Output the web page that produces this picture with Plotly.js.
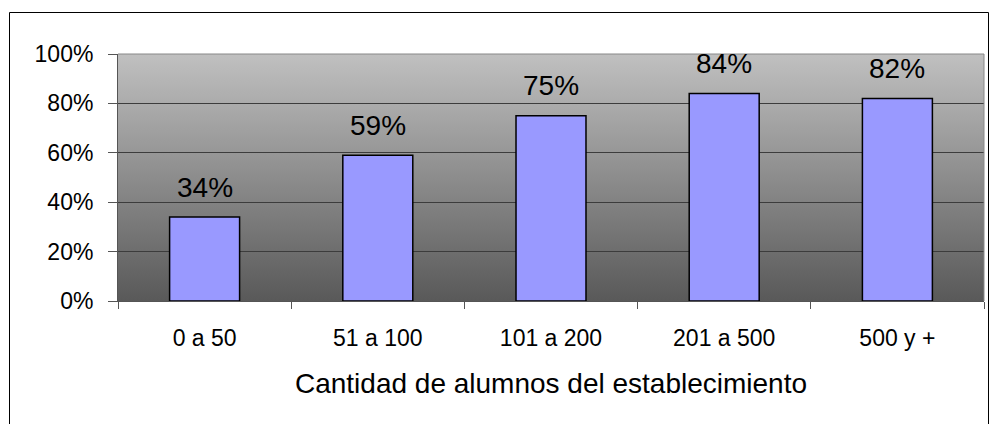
<!DOCTYPE html>
<html>
<head>
<meta charset="utf-8">
<script src="https://cdn.plot.ly/plotly-3.0.1.min.js"></script>
<style>html,body{margin:0;padding:0;background:#fff;}#chart{width:989px;height:424px;}</style>
</head>
<body>
<div id="chart"></div>
<script>
const categories = ["0 a 50", "51 a 100", "101 a 200", "201 a 500", "500 y +"];
const values = [0.34, 0.59, 0.75, 0.84, 0.82];
const valueLabels = ["34%", "59%", "75%", "84%", "82%"];
const yTickVals = [0, 0.2, 0.4, 0.6, 0.8, 1.0];
const yTickText = ["0%", "20%", "40%", "60%", "80%", "100%"];
const xTitle = "Cantidad de alumnos del establecimiento";

const FONT = "'Liberation Sans', Arial, sans-serif";

const gradSvg = '<svg xmlns="http://www.w3.org/2000/svg" width="10" height="100" preserveAspectRatio="none">' +
  '<defs><linearGradient id="g" x1="0" y1="0" x2="0" y2="1">' +
  '<stop offset="0" stop-color="#c0c0c0"/><stop offset="1" stop-color="#595959"/></linearGradient></defs>' +
  '<rect width="10" height="100" fill="url(#g)"/></svg>';
const gradUrl = 'data:image/svg+xml;base64,' + btoa(gradSvg);

const trace = {
  type: 'bar',
  x: categories,
  y: values,
  marker: {color: '#9999ff', line: {color: '#000000', width: 1.5}},
  hoverinfo: 'skip'
};

const annotations = categories.map((c, i) => ({
  x: c, y: values[i], xref: 'x', yref: 'y',
  text: valueLabels[i], showarrow: false,
  yanchor: 'middle', yshift: 30,
  font: {family: FONT, size: 28, color: '#000'}
}));

const layout = {
  width: 989, height: 424,
  margin: {l: 118, r: 5, t: 54, b: 123},
  paper_bgcolor: '#ffffff',
  plot_bgcolor: 'rgba(0,0,0,0)',
  bargap: 0.596,
  showlegend: false,
  font: {family: FONT, color: '#000'},
  images: [{
    source: gradUrl, xref: 'paper', yref: 'paper',
    x: 0, y: 1, sizex: 1, sizey: 1, sizing: 'stretch',
    xanchor: 'left', yanchor: 'top', layer: 'below'
  }],
  xaxis: {
    type: 'category',
    showgrid: false,
    ticks: 'outside', tickson: 'boundaries', ticklen: 7, tickcolor: '#555', tickwidth: 1,
    ticklabelstandoff: 16,
    showline: true, linecolor: '#555', linewidth: 1,
    tickfont: {family: FONT, size: 23, color: '#000'},
    title: {text: xTitle, font: {family: FONT, size: 28, color: '#000'}, standoff: 23},
    zeroline: false
  },
  yaxis: {
    range: [0, 1],
    tickvals: yTickVals, ticktext: yTickText,
    ticks: 'outside', ticklen: 9, tickcolor: '#555', tickwidth: 1,
    ticklabelstandoff: 10,
    showline: true, linecolor: '#555', linewidth: 1,
    showgrid: true, gridcolor: '#3c3c3c', gridwidth: 1,
    zeroline: false,
    tickfont: {family: FONT, size: 23, color: '#000'}
  },
  annotations: annotations,
  shapes: [
    {type: 'rect', xref: 'paper', yref: 'paper',
     x0: (9.5 - 118) / 866, x1: (988.5 - 118) / 866,
     y0: -0.6, y1: (301 - 12.5) / 247,
     line: {color: '#000', width: 1}, fillcolor: 'rgba(0,0,0,0)', layer: 'above'},
    {type: 'line', xref: 'paper', yref: 'paper', x0: 0, x1: 1, y0: 1, y1: 1,
     line: {color: '#888', width: 1}},
    {type: 'line', xref: 'paper', yref: 'paper', x0: 1, x1: 1, y0: 0, y1: 1,
     line: {color: '#888', width: 1}}
  ]
};

Plotly.newPlot('chart', [trace], layout, {staticPlot: true, displayModeBar: false});
</script>
</body>
</html>
